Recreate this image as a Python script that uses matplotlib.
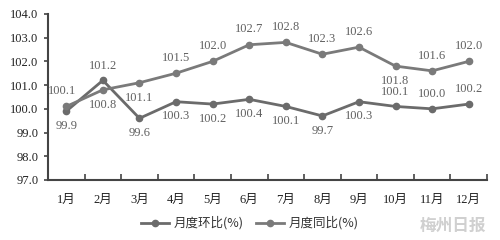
import matplotlib.pyplot as plt
from matplotlib.ticker import FixedLocator

plt.rcParams['font.family'] = ['Liberation Serif', 'Noto Sans CJK SC']

months = ['1月', '2月', '3月', '4月', '5月', '6月', '7月', '8月', '9月', '10月', '11月', '12月']
huanbi = [99.9, 101.2, 99.6, 100.3, 100.2, 100.4, 100.1, 99.7, 100.3, 100.1, 100.0, 100.2]
tongbi = [100.1, 100.8, 101.1, 101.5, 102.0, 102.7, 102.8, 102.3, 102.6, 101.8, 101.6, 102.0]
# 标签位置: 1 = 上方, -1 = 下方
huanbi_pos = [-1, 1, -1, -1, -1, -1, -1, -1, -1, 1, 1, 1]
tongbi_pos = [1, -1, -1, 1, 1, 1, 1, 1, 1, -1, 1, 1]

line_c = '#6b6b6b'
text_c = '#606060'

fig = plt.figure(figsize=(5, 2.4), dpi=100)
ax = fig.add_axes([0.096, 0.25, 0.878, 0.692])

x = list(range(len(months)))
ax.plot(x, huanbi, color=line_c, lw=2, marker='o', ms=4.5, label='月度环比(%)', zorder=3)
ax.plot(x, tongbi, color='#7a7a7a', lw=2, marker='o', ms=4.5, label='月度同比(%)', zorder=3)

for i in x:
    ax.annotate(f'{huanbi[i]:.1f}', (i, huanbi[i]), xytext=(0, 10.5 * huanbi_pos[i]),
                textcoords='offset points', ha='center', va='center', fontsize=9, color=text_c)
    dx = -3 if i == 0 else 0
    ax.annotate(f'{tongbi[i]:.1f}', (i, tongbi[i]), xytext=(dx, 11 * tongbi_pos[i]),
                textcoords='offset points', ha='center', va='center', fontsize=9, color=text_c)

ax.set_ylim(97, 104)
ax.set_yticks([97, 98, 99, 100, 101, 102, 103, 104])
ax.set_yticklabels([f'{v:.1f}' for v in ax.get_yticks()], fontsize=9, color='#222222')
ax.set_xlim(-0.5, 11.5)
ax.set_xticks(x)
ax.set_xticklabels(months, fontsize=9, color='#222222')
ax.xaxis.set_minor_locator(FixedLocator([i + 0.5 for i in x]))
ax.tick_params(axis='x', which='major', length=0, pad=10)
ax.tick_params(axis='x', which='minor', direction='in', length=4, width=1.2, color='#444444')
ax.tick_params(axis='y', direction='out', length=3, width=1.2, color='#444444', pad=4)

for s in ['top', 'right']:
    ax.spines[s].set_visible(False)
for s in ['left', 'bottom']:
    ax.spines[s].set_color('#444444')
    ax.spines[s].set_linewidth(1.5)

fig.legend(loc='center', bbox_to_anchor=(0.5, 0.07), ncol=2, frameon=False,
           prop={'family': 'Noto Sans CJK SC', 'size': 9}, handlelength=2.2,
           columnspacing=1.0, handletextpad=0.4, labelcolor='#333333')

fig.text(0.905, 0.06, '梅州日报', ha='center', va='center', fontsize=12,
         fontweight='bold', color='#d0d0d0', family='Noto Sans CJK SC')

fig.savefig('out.png', dpi=100, facecolor='white')
